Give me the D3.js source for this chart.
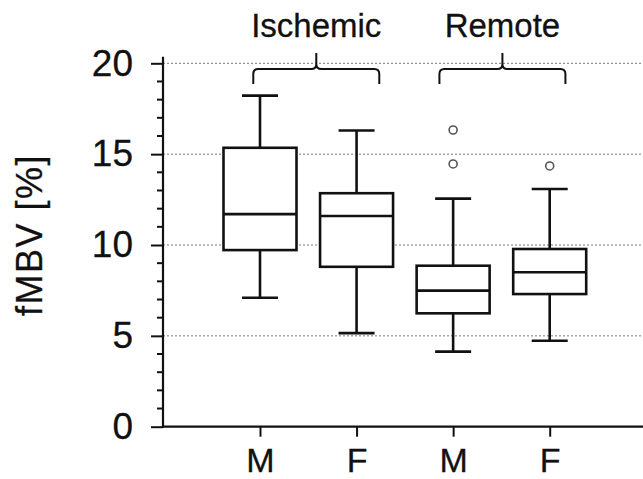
<!DOCTYPE html>
<html>
<head>
<meta charset="utf-8">
<script src="https://cdn.jsdelivr.net/npm/d3@7"></script>
<style>
  html, body { margin: 0; padding: 0; background: #fff; }
  svg { display: block; font-family: "Liberation Sans", Arial, Helvetica, sans-serif; }
</style>
</head>
<body>
<svg id="chart" width="643" height="479"></svg>
<script>
// ---- data ----
const categories = ["M", "F", "M", "F"];
const groups = ["Ischemic", "Ischemic", "Remote", "Remote"];
const groupNames = ["Ischemic", "Remote"];
const whiskerLow  = [7.1, 5.15, 4.13, 4.73];
const q1          = [9.72, 8.8, 6.24, 7.3];
const median      = [11.7, 11.6, 7.49, 8.5];
const q3          = [15.35, 12.85, 8.86, 9.78];
const whiskerHigh = [18.22, 16.3, 12.55, 13.08];
const outliers    = [[], [], [16.33, 14.46], [14.35]];
const yTicks = [0, 5, 10, 15, 20];
const yLabel = "fMBV [%]";

// ---- layout ----
const svg = d3.select("#chart");
const W = 643, H = 479;
const axisX = 163;
const x = d3.scalePoint().domain(d3.range(categories.length)).range([260, 549.7]);
const y = d3.scaleLinear().domain([0, 20]).range([426.7, 63.3]);
const boxHalf = 36.5, capHalf = 18;
const ink = "#111";

// gridlines
svg.append("g").selectAll("line").data(yTicks.filter(d => d > 0)).join("line")
  .attr("x1", axisX).attr("x2", W)
  .attr("y1", d => y(d)).attr("y2", d => y(d))
  .attr("stroke", "#777").attr("stroke-width", 1).attr("stroke-dasharray", "2,2");

// Y axis
const yAxis = d3.axisLeft(y).tickValues(yTicks).tickSize(12).tickPadding(18).tickFormat(d3.format("d"));
const gy = svg.append("g").attr("transform", `translate(${axisX},0)`).call(yAxis);
gy.select(".domain").remove();
gy.selectAll(".tick line").attr("stroke", ink).attr("stroke-width", 2);
gy.selectAll(".tick text").attr("font-size", 37).attr("fill", ink)
  .attr("stroke", ink).attr("stroke-width", 0.3).attr("font-family", "Liberation Sans, Arial, sans-serif");
// minor ticks
gy.append("g").selectAll("line").data(d3.range(0, 21).filter(d => d % 5 !== 0)).join("line")
  .attr("x1", -6).attr("x2", 0).attr("y1", d => y(d)).attr("y2", d => y(d))
  .attr("stroke", ink).attr("stroke-width", 2);
gy.append("line").attr("x1", 0).attr("x2", 0).attr("y1", y(0) + 1).attr("y2", y(20) - 6.5)
  .attr("stroke", ink).attr("stroke-width", 2.2);

// X axis
const xAxis = d3.axisBottom(x).tickSize(10).tickPadding(11).tickFormat(i => categories[i]);
const gx = svg.append("g").attr("transform", `translate(0,${y(0)})`).call(xAxis);
gx.select(".domain").remove();
gx.selectAll(".tick line").attr("stroke", ink).attr("stroke-width", 2);
gx.selectAll(".tick text").attr("font-size", 34).attr("fill", ink)
  .attr("stroke", ink).attr("stroke-width", 0.3).attr("font-family", "Liberation Sans, Arial, sans-serif");
gx.append("line").attr("x1", axisX - 1).attr("x2", W).attr("y1", 0).attr("y2", 0)
  .attr("stroke", ink).attr("stroke-width", 2.2);

// Y label
svg.append("text")
  .attr("transform", `translate(42,${235}) rotate(-90)`)
  .attr("text-anchor", "middle").attr("font-size", 36).attr("fill", ink)
  .attr("stroke", ink).attr("stroke-width", 0.3)
  .attr("letter-spacing", 1.5)
  .text(yLabel);

// boxes
const idx = d3.range(categories.length);
const g = svg.append("g").attr("stroke", ink).attr("stroke-width", 2.6).attr("fill", "none");
idx.forEach(i => {
  const cx = x(i);
  g.append("line").attr("x1", cx).attr("x2", cx).attr("y1", y(q3[i])).attr("y2", y(whiskerHigh[i]));
  g.append("line").attr("x1", cx).attr("x2", cx).attr("y1", y(q1[i])).attr("y2", y(whiskerLow[i]));
  g.append("line").attr("x1", cx - capHalf).attr("x2", cx + capHalf).attr("y1", y(whiskerHigh[i])).attr("y2", y(whiskerHigh[i]));
  g.append("line").attr("x1", cx - capHalf).attr("x2", cx + capHalf).attr("y1", y(whiskerLow[i])).attr("y2", y(whiskerLow[i]));
  g.append("rect").attr("x", cx - boxHalf).attr("width", boxHalf * 2)
    .attr("y", y(q3[i])).attr("height", y(q1[i]) - y(q3[i])).attr("fill", "#fff");
  g.append("line").attr("x1", cx - boxHalf).attr("x2", cx + boxHalf).attr("y1", y(median[i])).attr("y2", y(median[i]));
  outliers[i].forEach(v => {
    svg.append("circle").attr("cx", cx).attr("cy", y(v)).attr("r", 4)
      .attr("fill", "#fff").attr("stroke", "#555").attr("stroke-width", 1.6);
  });
});

// group brackets
const groupOffset = [8, 1];
const bracketHalf = 63;
groupNames.forEach((name, gi) => {
  const members = idx.filter(i => groups[i] === name);
  const mid = (x(members[0]) + x(members[members.length - 1])) / 2 + groupOffset[gi];
  const l = mid - bracketHalf, r = mid + bracketHalf;
  const top = 53, hy = 69, bot = 84, rr = 5;
  const p = `M${l},${bot} L${l},${hy + rr} Q${l},${hy} ${l + rr},${hy} L${mid - rr},${hy} Q${mid},${hy} ${mid},${hy - rr} L${mid},${top}` +
            ` M${mid},${hy - rr} Q${mid},${hy} ${mid + rr},${hy} L${r - rr},${hy} Q${r},${hy} ${r},${hy + rr} L${r},${bot}`;
  svg.append("path").attr("d", p).attr("fill", "none").attr("stroke", ink).attr("stroke-width", 2);
  svg.append("text").attr("x", mid).attr("y", 37).attr("text-anchor", "middle")
    .attr("font-size", 33).attr("fill", ink).attr("stroke", ink).attr("stroke-width", 0.3).text(name);
});
</script>
</body>
</html>
